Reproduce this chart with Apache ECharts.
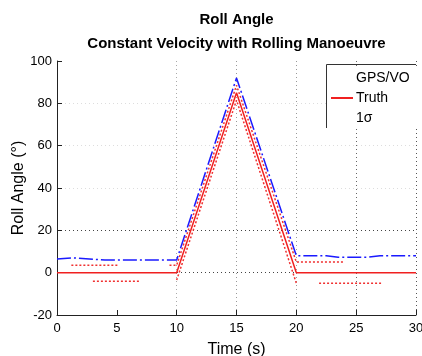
<!DOCTYPE html>
<html>
<head>
<meta charset="utf-8">
<script src="https://cdn.jsdelivr.net/npm/echarts@6/dist/echarts.min.js"></script>
<style>
  html, body { margin: 0; padding: 0; background: #fff; }
  #chart { width: 422px; height: 356px; }
</style>
</head>
<body>
<div id="chart"></div>
<script>
// Axis ticks
const timeTicks = [0, 5, 10, 15, 20, 25, 30];
const rollTicks = [-20, 0, 20, 40, 60, 80, 100];

// GPS/VO estimated roll angle (deg)
const gpsVoTime = [0, 1.3, 4, 10, 15, 20, 22.5, 23.5, 26, 27, 30];
const gpsVoRoll = [6.5, 7, 6, 6, 92, 8, 8, 7.3, 7.3, 8, 8];

// True roll angle (deg)
const truthTime = [0, 10, 15, 20, 30];
const truthRoll = [0, 0, 85, 0, 0];

// 1-sigma bounds ('-' breaks the line)
const sigmaUpperTime = [1.2, 5.2, 5.3, 9.4, 10, 15, 20, 23.9];
const sigmaUpperRoll = [3.5, 3.5, '-', 3.5, 3.5, 88.5, 5, 5];
const sigmaLowerTime = [3, 7, 7.1, 10, 15, 20, 20.1, 21.9, 27.1];
const sigmaLowerRoll = [-4, -4, '-', -3.5, 81.5, -5, '-', -5, -5];

const FONT = 'Liberation Sans, Arial, Helvetica, sans-serif';
const zip = (xs, ys) => xs.map((x, i) => [x, ys[i]]);

const chart = echarts.init(document.getElementById('chart'), null, { renderer: 'canvas' });

const NONE = 'rgba(0,0,0,0)';

chart.setOption({
  animation: false,
  backgroundColor: '#fff',
  title: {
    text: 'Roll Angle\nConstant Velocity with Rolling Manoeuvre',
    left: 236.5,
    textAlign: 'center',
    top: 8,
    padding: 0,
    textStyle: { fontFamily: FONT, fontSize: 15, fontWeight: 'bold', color: '#000', lineHeight: 24 }
  },
  grid: { left: 57, right: 6, top: 61, bottom: 41, containLabel: false, outerBoundsMode: 'none' },
  xAxis: {
    type: 'value',
    min: timeTicks[0],
    max: timeTicks[timeTicks.length - 1],
    interval: timeTicks[1] - timeTicks[0],
    name: 'Time (s)',
    nameLocation: 'middle',
    nameGap: 27,
    nameMoveOverlap: false,
    nameTextStyle: { fontFamily: FONT, fontSize: 16, color: '#000' },
    axisLine: { onZero: false, lineStyle: { color: '#222', width: 1 } },
    axisTick: { inside: true, length: 5, lineStyle: { color: '#222' } },
    axisLabel: { fontFamily: FONT, fontSize: 13, color: '#000', margin: 7 },
    splitLine: {
      show: true,
      lineStyle: {
        type: [1, 3],
        width: 1,
        color: [NONE, NONE, '#aaa', '#999', '#999', '#666', '#555']
      }
    }
  },
  yAxis: {
    type: 'value',
    min: rollTicks[0],
    max: rollTicks[rollTicks.length - 1],
    interval: rollTicks[1] - rollTicks[0],
    name: 'Roll Angle (°)',
    nameLocation: 'middle',
    nameGap: 30,
    nameMoveOverlap: false,
    nameTextStyle: { fontFamily: FONT, fontSize: 16, color: '#000' },
    axisLine: { onZero: false, lineStyle: { color: '#222', width: 1 } },
    axisTick: { inside: true, length: 5, lineStyle: { color: '#222' } },
    axisLabel: { fontFamily: FONT, fontSize: 13, color: '#000', margin: 5 },
    splitLine: {
      show: true,
      lineStyle: {
        type: [1, 3],
        width: 1,
        color: [NONE, '#444', '#444', '#ddd', '#ddd', '#ddd', NONE]
      }
    }
  },
  legend: {
    orient: 'vertical',
    left: 327,
    top: 67,
    padding: [4, 10, 4, 3],
    backgroundColor: '#fff',
    itemWidth: 22,
    itemHeight: 14,
    itemGap: 6,
    textStyle: { fontFamily: FONT, fontSize: 14, color: '#000', padding: [0, 0, 0, -2] },
    data: [
      { name: 'GPS/VO', lineStyle: { opacity: 0 }, itemStyle: { opacity: 0 } },
      { name: 'Truth', itemStyle: { opacity: 0 } },
      { name: '1σ', lineStyle: { opacity: 0 }, itemStyle: { opacity: 0 } }
    ]
  },
  graphic: [{
    type: 'polyline',
    z: 10,
    shape: { points: [[326.5, 128], [326.5, 64.5], [416, 64.5]] },
    style: { stroke: '#333', lineWidth: 1, fill: null }
  }],
  series: [
    {
      name: 'GPS/VO',
      type: 'line',
      symbol: 'none',
      data: zip(gpsVoTime, gpsVoRoll),
      lineStyle: { color: '#1a1aff', width: 1.5, type: [14, 3, 2, 3] },
      itemStyle: { color: '#1a1aff' },
      z: 3
    },
    {
      name: 'Truth',
      type: 'line',
      symbol: 'none',
      data: zip(truthTime, truthRoll),
      lineStyle: { color: '#f02020', width: 1.5 },
      itemStyle: { color: '#f02020' },
      z: 2
    },
    {
      name: '1σ',
      type: 'line',
      symbol: 'none',
      connectNulls: false,
      data: zip(sigmaUpperTime, sigmaUpperRoll),
      lineStyle: { color: '#f03030', width: 1.5, type: [2, 2] },
      itemStyle: { color: '#f03030' },
      z: 2
    },
    {
      name: '1σ',
      type: 'line',
      symbol: 'none',
      connectNulls: false,
      data: zip(sigmaLowerTime, sigmaLowerRoll),
      lineStyle: { color: '#f03030', width: 1.5, type: [2, 2] },
      itemStyle: { color: '#f03030' },
      z: 2
    }
  ]
});
</script>
</body>
</html>
